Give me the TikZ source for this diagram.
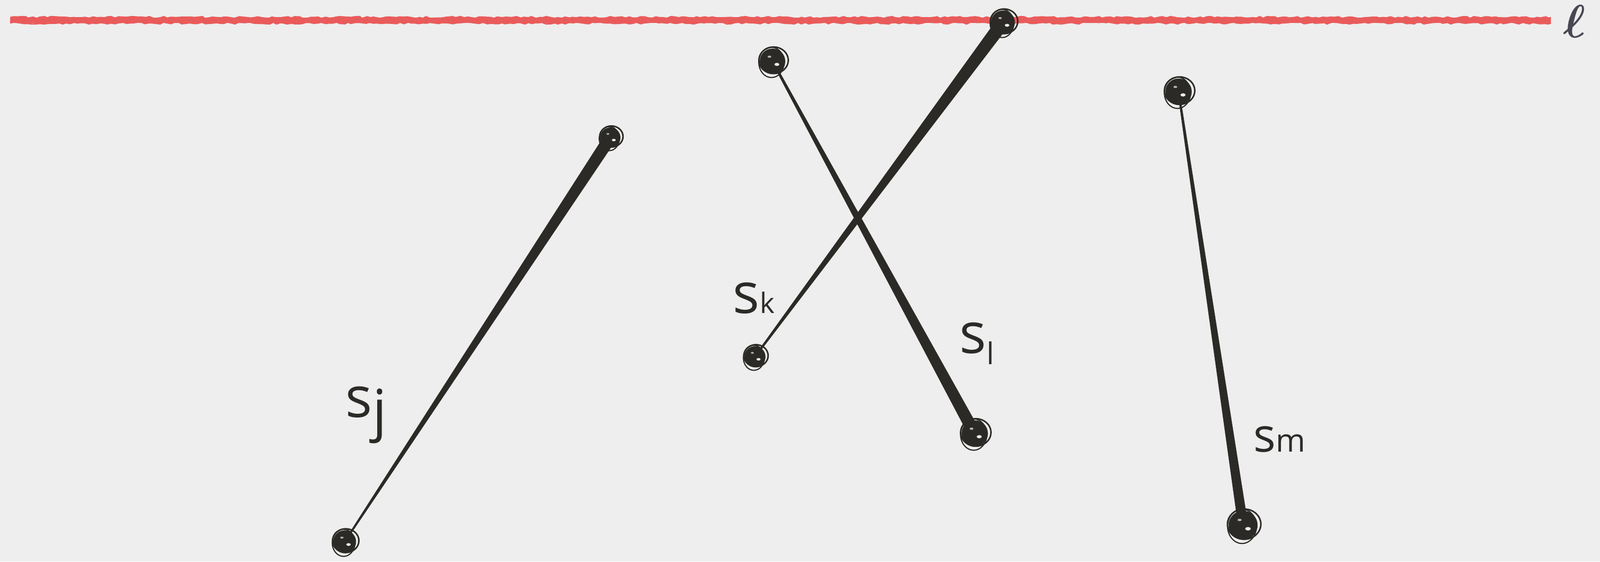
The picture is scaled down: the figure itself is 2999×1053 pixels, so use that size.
\documentclass[tikz,border=0pt]{standalone}
\usepackage{bm}
\usepackage{fontspec}
\setmainfont{Open Sans}
\usetikzlibrary{calc,decorations.pathmorphing}
\definecolor{paper}{HTML}{EEEEEE}
\definecolor{ink}{HTML}{2B2A26}
\definecolor{redl}{HTML}{E95B5B}
\definecolor{ellc}{HTML}{4A4752}
\pgfdeclarelayer{bglayer}
\pgfsetlayers{bglayer,main}
\tikzset{
  dotsty/.style={circle, fill=ink, inner sep=0pt},
  lbl/.style={text=ink, inner sep=0pt, anchor=base west},
}
\newcommand\dotnode[3]{%
  \node[dotsty, minimum size={#3*0.0165cm}] (#1) at (#2) {};
  \draw[ink, line width=0.8pt] ($(#1)+(2,-2)$) ellipse [x radius=#3*0.95, y radius=#3*0.86];
  \draw[ink, line width=0.6pt] ($(#1)+(-2,2)$) ellipse [x radius=#3*0.82, y radius=#3*0.98];
  \fill[paper] ($(#1)+(#3*0.28,#3*0.2)$) ellipse [x radius=#3*0.16, y radius=#3*0.1];
  \fill[paper!70!ink] ($(#1)+(-#3*0.2,-#3*0.3)$) ellipse [x radius=#3*0.12, y radius=#3*0.07];
}
\newcommand\taperseg[4]{%
  \fill[ink] ($(#1)!#3!90:(#2)$) -- ($(#2)!#4!-90:(#1)$) -- ($(#2)!#4!90:(#1)$) -- ($(#1)!#3!-90:(#2)$) -- cycle;
}
\begin{document}
\begin{tikzpicture}[x=0.01cm, y=-0.01cm]
\useasboundingbox (0,0) rectangle (2999,1053);
\begin{pgfonlayer}{bglayer}
  \fill[paper] (0,0) rectangle (2999,1053);
\end{pgfonlayer}

% red line l
\coordinate (l0) at (19,38);
\coordinate (l1) at (2907,38);
\draw[redl, line width=2.6pt] (l0) -- (l1);
\draw[redl, line width=0.8pt, decorate, decoration={random steps, segment length=2pt, amplitude=0.5pt}] ($(l0)+(0,-5)$) -- ($(l1)+(0,-5)$);
\draw[redl, line width=0.8pt, decorate, decoration={random steps, segment length=2pt, amplitude=0.5pt}] ($(l0)+(0,5)$) -- ($(l1)+(0,5)$);
\node[text=ellc, inner sep=0pt, font=\fontsize{32}{32}\selectfont] (ell) at (2951,40) {$\bm{\ell}$};

% dots
\dotnode{jb}{646,1016}{26}
\dotnode{jt}{1144,258}{23}
\dotnode{kb}{1415,669}{24}
\dotnode{kt}{1880,42}{27}
\dotnode{lt}{1448,115}{29}
\dotnode{lb}{1827,813}{30}
\dotnode{mt}{2209,172}{30}
\dotnode{mb}{2330,985}{33}

% segments
\begin{pgfonlayer}{bglayer}
  \taperseg{jb}{jt}{0.45pt}{3.3pt}
  \taperseg{kb}{kt}{0.5pt}{3.6pt}
  \taperseg{lt}{lb}{0.6pt}{3.3pt}
  \taperseg{mt}{mb}{0.55pt}{2.7pt}
\end{pgfonlayer}

% labels
\node[lbl, font=\fontsize{30}{30}\selectfont] (sj) at (647,782) {s\raisebox{-7pt}{j}};
\node[lbl, font=\fontsize{30}{30}\selectfont] (sk) at (1373,587) {s\raisebox{0pt}{\fontsize{15}{15}\selectfont k}};
\node[lbl, font=\fontsize{30}{30}\selectfont] (sl) at (1798,662) {s\raisebox{-6pt}{\fontsize{16}{16}\selectfont l}};
\node[lbl, font=\fontsize{25}{25}\selectfont] (sm) at (2349,847) {s\fontsize{17}{17}\selectfont m};
\end{tikzpicture}
\end{document}
